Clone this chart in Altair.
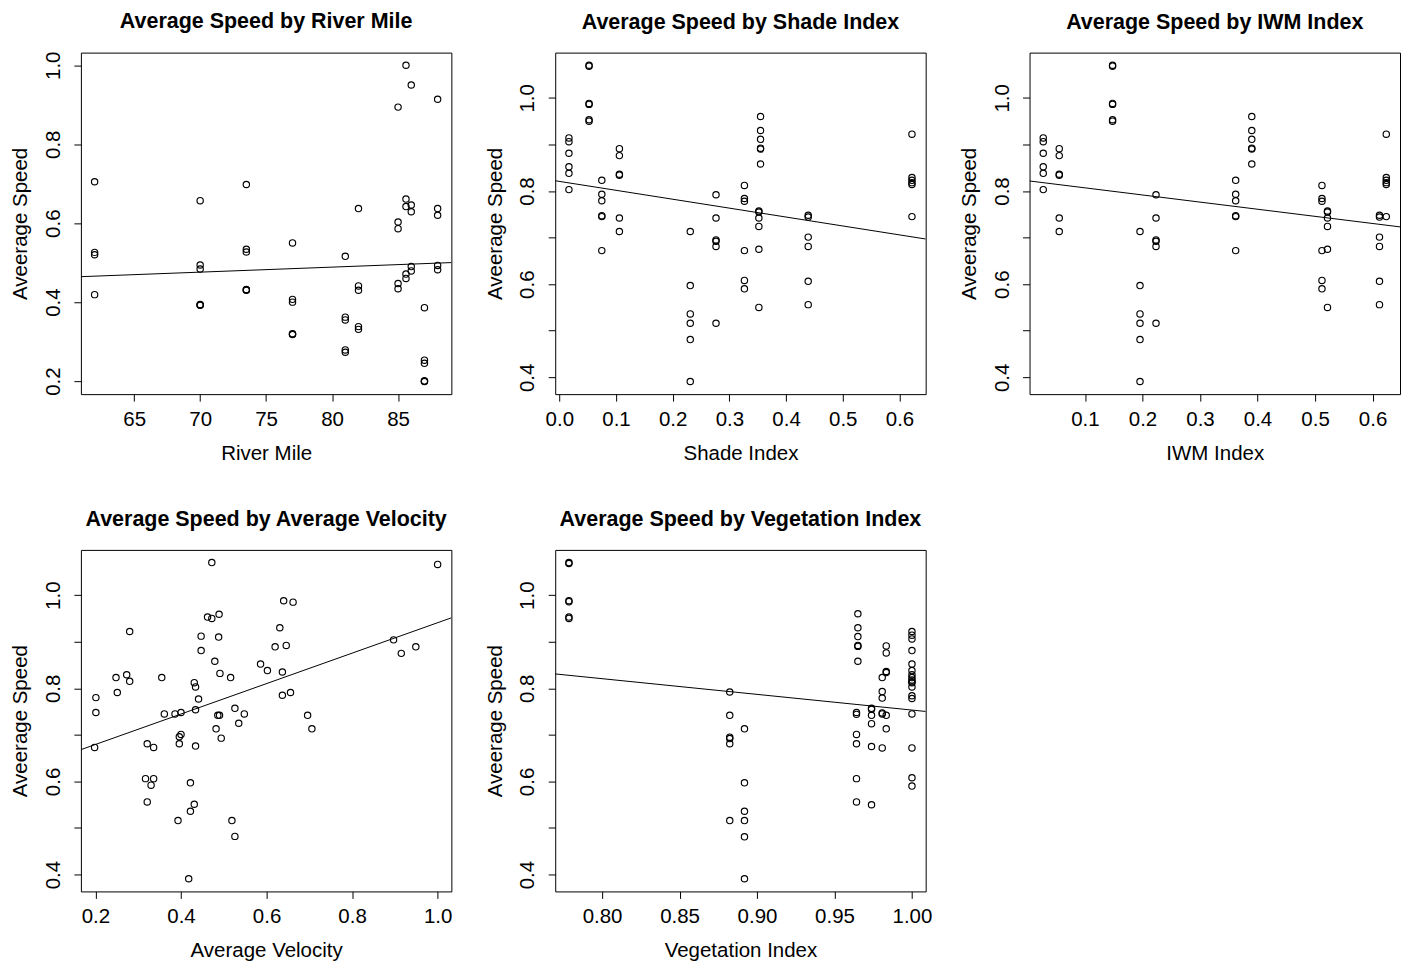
import altair as alt
import pandas as pd

FONT = "Liberation Sans"

# ---------------- Panel 1: River Mile (its own response values) ----------------
# bold circles in the picture are several overlapping observations
rm_miles = [62, 70, 73.5, 77, 81, 82, 85, 85.6, 86, 87, 88]
rm_speeds = [
    [0.705, 0.526, 0.520, 0.419],
    [0.657, 0.494, 0.484, 0.394, 0.392, 0.393],
    [0.698, 0.534, 0.527, 0.432, 0.430, 0.431],
    [0.550, 0.407, 0.400, 0.320, 0.318, 0.319],
    [0.516, 0.362, 0.355, 0.279, 0.273],
    [0.637, 0.441, 0.430, 0.338, 0.331],
    [0.894, 0.603, 0.586, 0.447, 0.434],
    [1.000, 0.661, 0.642, 0.471, 0.460],
    [0.950, 0.646, 0.629, 0.490, 0.479],
    [0.386, 0.253, 0.245, 0.200, 0.199, 0.200],
    [0.914, 0.637, 0.620, 0.493, 0.482],
]

# ---------------- Site-level indices (11 sites, 6 observations each) ----------------
site_shade = [0.017, 0.0525, 0.075, 0.106, 0.231, 0.2764, 0.3265, 0.355, 0.352, 0.439, 0.622]
site_iwm = [0.0275, 0.148, 0.362, 0.0553, 0.1957, 0.2235, 0.512, 0.390, 0.5216, 0.612, 0.6238]
site_veg = [1.0, 0.7786, 0.9808, 0.9834, 0.8919, 0.8824, 1.0, 0.9651, 0.9739, 0.9642, 1.0]
site_speeds = [
    [0.914, 0.906, 0.881, 0.852, 0.838, 0.803],
    [1.070, 1.068, 0.988, 0.986, 0.953, 0.950],
    [0.823, 0.793, 0.779, 0.747, 0.745, 0.672],
    [0.891, 0.876, 0.836, 0.834, 0.742, 0.713],
    [0.713, 0.597, 0.536, 0.516, 0.481, 0.391],
    [0.792, 0.742, 0.695, 0.692, 0.681, 0.516],
    [0.812, 0.784, 0.778, 0.672, 0.608, 0.590],
    [0.960, 0.930, 0.911, 0.892, 0.890, 0.858],
    [0.757, 0.755, 0.742, 0.724, 0.675, 0.550],
    [0.748, 0.744, 0.701, 0.681, 0.606, 0.556],
    [0.922, 0.829, 0.823, 0.818, 0.814, 0.745],
]

# ---------------- Panel 4: Average Velocity ----------------
vel = [0.472, 1.0, 0.640, 0.662, 0.462, 0.472, 0.489, 0.280, 0.631, 0.447, 0.488,
       0.897, 0.620, 0.646, 0.949, 0.915, 0.447, 0.479, 0.586, 0.602, 0.637, 0.491,
       0.516, 0.248, 0.273, 0.280, 0.355, 0.431, 0.434, 0.201, 0.251, 0.441, 0.637,
       0.656, 0.201, 0.361, 0.386, 0.400, 0.434, 0.486, 0.490, 0.526, 0.548, 0.535,
       0.696, 0.706, 0.482, 0.494, 0.400, 0.396, 0.396, 0.321, 0.336, 0.434, 0.198,
       0.317, 0.336, 0.330, 0.422, 0.321, 0.431, 0.422, 0.393, 0.519, 0.526, 0.418]
vel_speed = [1.070, 1.066, 0.988, 0.985, 0.953, 0.950, 0.959, 0.922, 0.930, 0.912, 0.910,
             0.904, 0.889, 0.892, 0.889, 0.875, 0.881, 0.858, 0.852, 0.838, 0.835, 0.832,
             0.823, 0.823, 0.829, 0.815, 0.823, 0.812, 0.803, 0.780, 0.791, 0.777, 0.785,
             0.791, 0.748, 0.745, 0.745, 0.748, 0.754, 0.742, 0.742, 0.757, 0.745, 0.725,
             0.742, 0.713, 0.713, 0.693, 0.701, 0.696, 0.681, 0.681, 0.673, 0.676, 0.673,
             0.606, 0.606, 0.592, 0.597, 0.556, 0.551, 0.536, 0.516, 0.516, 0.482, 0.391]

# ---------------- Tick values ----------------
rm_ticks = [65, 70, 75, 80, 85]
idx_ticks = [0.0, 0.1, 0.2, 0.3, 0.4, 0.5, 0.6]
iwm_ticks = [0.1, 0.2, 0.3, 0.4, 0.5, 0.6]
vel_ticks = [0.2, 0.4, 0.6, 0.8, 1.0]
veg_ticks = [0.80, 0.85, 0.90, 0.95, 1.00]
y1_ticks = [0.2, 0.4, 0.6, 0.8, 1.0]
y2_ticks = [0.4, 0.5, 0.6, 0.7, 0.8, 0.9, 1.0]

# ---------------- Tables ----------------
df_rm = pd.DataFrame([(m, s) for m, ss in zip(rm_miles, rm_speeds) for s in ss],
                     columns=["x", "speed"])
site_rows = []
for sh, iw, vg, ss in zip(site_shade, site_iwm, site_veg, site_speeds):
    for s in ss:
        site_rows.append((sh, iw, vg, s))
df_site = pd.DataFrame(site_rows, columns=["shade", "iwm", "veg", "speed"])
df_vel = pd.DataFrame({"x": vel, "speed": vel_speed})


def rpad(vals):
    lo, hi = min(vals), max(vals)
    d = hi - lo
    return [lo - 0.04 * d, hi + 0.04 * d]


W, H = 371, 342
LABEL_EXPR = "abs(round(datum.value*10)) % 2 == 0 ? format(datum.value, '.1f') : ''"


def panel(df, xfield, title, xtitle, xticks, xfmt, yticks, ydom):
    xdom = rpad(df[xfield].tolist())
    xenc = alt.X(f"{xfield}:Q",
                 scale=alt.Scale(domain=xdom, nice=False, zero=False),
                 axis=alt.Axis(values=xticks, format=xfmt, title=xtitle,
                               labelFlush=False, labelOverlap=False,
                               labelPadding=8, titleY=65, titleBaseline="alphabetic"))
    yenc = alt.Y("speed:Q",
                 scale=alt.Scale(domain=ydom, nice=False, zero=False),
                 axis=alt.Axis(values=yticks, labelExpr=LABEL_EXPR, title="Aveerage Speed",
                               labelAngle=270, labelAlign="center", labelBaseline="alphabetic",
                               labelPadding=14.5, labelOverlap=False, labelFlush=False,
                               titleAngle=270, titleX=-54, titleY=H / 2,
                               titleAlign="center", titleBaseline="alphabetic"))
    base = alt.Chart(df)
    pts = base.mark_point(shape="circle", filled=False, size=40, strokeWidth=1.15,
                          color="black", opacity=1).encode(x=xenc, y=yenc)
    line = base.transform_regression(xfield, "speed", extent=xdom).mark_line(
        color="black", strokeWidth=1, clip=True).encode(x=xenc, y=yenc)
    return alt.layer(pts, line).properties(
        width=W, height=H,
        title=alt.TitleParams(title, font=FONT, fontSize=21.5, fontWeight="bold",
                              color="black", anchor="middle", baseline="alphabetic",
                              offset=2))


y1dom = rpad(df_rm["speed"].tolist())
y2dom = rpad(df_site["speed"].tolist())

p1 = panel(df_rm, "x", "Average Speed by River Mile", "River Mile", rm_ticks, "d", y1_ticks, y1dom)
p2 = panel(df_site, "shade", "Average Speed by Shade Index", "Shade Index", idx_ticks, ".1f", y2_ticks, y2dom)
p3 = panel(df_site, "iwm", "Average Speed by IWM Index", "IWM Index", iwm_ticks, ".1f", y2_ticks, y2dom)
p4 = panel(df_vel, "x", "Average Speed by Average Velocity", "Average Velocity", vel_ticks, ".1f", y2_ticks, y2dom)
p5 = panel(df_site, "veg", "Average Speed by Vegetation Index", "Vegetation Index", veg_ticks, ".2f", y2_ticks, y2dom)

chart = alt.concat(
    p1, p2, p3, p4, p5, columns=3,
    spacing=alt.RowColnumber(row=156, column=104), bounds="flush"
).properties(
    padding={"left": 2, "top": 1, "right": 0, "bottom": 0},
    background="white",
).configure_view(
    stroke="black", strokeWidth=1, fill="white"
).configure_axis(
    domain=False, grid=False, ticks=True, tickColor="black", tickSize=7, tickWidth=1,
    labelFont=FONT, labelFontSize=20.5, labelColor="black",
    titleFont=FONT, titleFontSize=20.5, titleFontWeight="normal", titleColor="black",
)

chart.save("out.html", embed_options={"renderer": "svg", "actions": False})
